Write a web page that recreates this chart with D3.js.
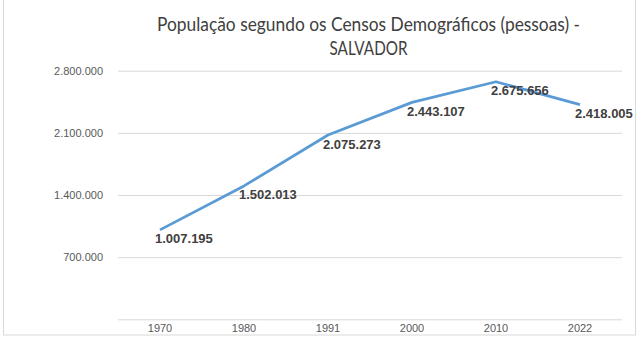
<!DOCTYPE html>
<html>
<head>
<meta charset="utf-8">
<script src="https://cdn.jsdelivr.net/npm/d3@7"></script>
<style>
  html, body { margin: 0; padding: 0; background: #fff; }
  svg { display: block; }
</style>
</head>
<body>
<svg id="chart" width="640" height="350"></svg>
<script>
// Census years and Salvador's population (people)
const years = ["1970", "1980", "1991", "2000", "2010", "2022"];
const population = [1007195, 1502013, 2075273, 2443107, 2675656, 2418005];
const yTicks = [700000, 1400000, 2100000, 2800000];
const titleLines = ["População segundo os Censos Demográficos (pessoas) -", "SALVADOR"];
const titleWidths = [423, 78];

const ptBR = d3.formatLocale({ decimal: ",", thousands: ".", grouping: [3], currency: ["R$", ""] });
const fmt = ptBR.format(",d");

const svg = d3.select("#chart");
const plot = { left: 118, right: 622, top: 70.7, bottom: 319.3 };

// Outer chart frame
svg.append("rect")
  .attr("x", 3.5).attr("y", -2)
  .attr("width", 632).attr("height", 337)
  .attr("fill", "#fff").attr("stroke", "#d9d9d9").attr("stroke-width", 1);

// Title (slightly condensed lines)
const title = svg.append("text")
  .attr("text-anchor", "middle")
  .attr("font-family", "Lato, 'Open Sans', sans-serif")
  .attr("font-size", 18.5)
  .attr("fill", "#404040");
title.selectAll("tspan").data(titleLines).join("tspan")
  .attr("x", 368.5)
  .attr("y", (d, i) => 30.7 + i * 24.3)
  .attr("textLength", (d, i) => titleWidths[i])
  .attr("lengthAdjust", "spacingAndGlyphs")
  .text(d => d);

const x = d3.scaleBand().domain(years).range([plot.left, plot.right]);
const y = d3.scaleLinear().domain([0, 2800000]).range([plot.bottom, plot.top]);
const cx = d => x(d) + x.bandwidth() / 2;

// Horizontal gridlines and y tick labels
const yAxis = svg.append("g")
  .attr("transform", `translate(${plot.left},0)`)
  .call(d3.axisLeft(y).tickValues([0, ...yTicks])
    .tickSize(-(plot.right - plot.left)).tickPadding(15)
    .tickFormat(d => d === 0 ? "" : fmt(d)));
yAxis.select(".domain").remove();
yAxis.selectAll(".tick line").attr("stroke", "#d9d9d9").attr("stroke-width", 1);
yAxis.selectAll(".tick text")
  .attr("font-family", "'Liberation Sans', Arial, sans-serif")
  .attr("font-size", 11).attr("fill", "#595959");

// Category axis labels
const xAxis = svg.append("g")
  .attr("transform", `translate(0,${plot.bottom})`)
  .call(d3.axisBottom(x).tickSize(0).tickPadding(5));
xAxis.select(".domain").remove();
xAxis.selectAll(".tick text")
  .attr("font-family", "'Liberation Sans', Arial, sans-serif")
  .attr("font-size", 11).attr("fill", "#595959");

// Population line
const data = years.map((yr, i) => ({ year: yr, value: population[i] }));
svg.append("path")
  .datum(data)
  .attr("fill", "none")
  .attr("stroke", "#5b9bd5")
  .attr("stroke-width", 2.75)
  .attr("stroke-linejoin", "round")
  .attr("d", d3.line().x(d => cx(d.year)).y(d => y(d.value)));

// Value labels
svg.append("g").selectAll("text").data(data).join("text")
  .attr("x", d => cx(d.year) - 5)
  .attr("y", d => y(d.value) + 13.5)
  .attr("font-family", "'Liberation Sans', Arial, sans-serif")
  .attr("font-size", 13).attr("font-weight", "bold")
  .attr("fill", "#404040")
  .text(d => fmt(d.value));
</script>
</body>
</html>
